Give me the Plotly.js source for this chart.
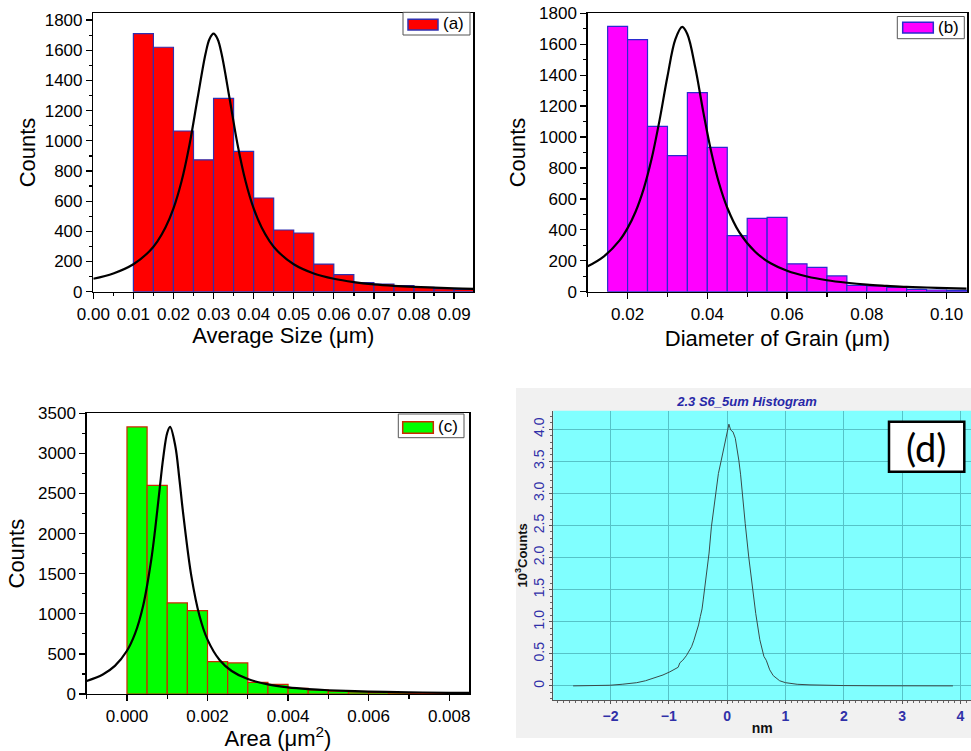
<!DOCTYPE html>
<html>
<head>
<meta charset="utf-8">
<script src="https://cdn.plot.ly/plotly-3.0.1.min.js"></script>
<style>
html,body{margin:0;padding:0;background:#fff;}
#chart{width:971px;height:751px;}
</style>
</head>
<body>
<div id="chart"></div>
<script>
// ---------- Panel (a): Average Size ----------
const binWidthA = 0.005;
const binStartA = [0.010,0.015,0.020,0.025,0.030,0.035,0.040,0.045,0.050,0.055,0.060,0.065,0.070,0.075,0.080,0.085,0.090];
const countsA   = [1710,1620,1065,874,1281,930,621,409,389,183,113,60,51,40,29,20,15];
const fitAx = [0,0.005,0.010,0.014,0.016,0.018,0.020,0.022,0.024,0.026,0.028,0.029,0.030,0.031,0.032,0.034,0.036,0.038,0.040,0.042,0.044,0.046,0.050,0.055,0.060,0.065,0.070,0.075,0.080,0.085,0.090,0.095];
const fitAy = [86,121,182,268,334,425,552,730,974,1280,1577,1675,1710,1675,1577,1280,974,730,552,425,334,268,182,121,86,64,49,39,32,27,22,19];

// ---------- Panel (b): Diameter of Grain ----------
const binWidthB = 0.005;
const binStartB = [0.015,0.020,0.025,0.030,0.035,0.040,0.045,0.050,0.055,0.060,0.065,0.070,0.075,0.080,0.085,0.090,0.095,0.100];
const countsB   = [1715,1630,1069,880,1287,933,362,474,481,180,157,102,41,37,28,15,11,9];
const fitBx = [0.010,0.014,0.018,0.020,0.022,0.024,0.026,0.028,0.030,0.032,0.0337,0.035,0.037,0.039,0.041,0.043,0.045,0.048,0.052,0.056,0.060,0.065,0.070,0.075,0.080,0.085,0.090,0.095,0.100,0.105];
const fitBy = [164,227,332,411,517,662,856,1106,1391,1633,1712,1665,1446,1161,902,696,543,385,258,182,135,98,74,58,46,38,31,27,23,20];

// ---------- Panel (c): Area ----------
const binWidthC = 0.0005;
const binStartC = [0,0.0005,0.0010,0.0015,0.0020,0.0025,0.0030,0.0035,0.0040,0.0045,0.0050,0.0055,0.0060,0.0065,0.0070,0.0075];
const countsC   = [3330,2602,1135,1039,403,387,145,121,71,50,37,25,21,16,12,8];
const fitCx = [-0.001,-0.0006,-0.0003,0,0.0002,0.0004,0.0006,0.0007,0.0008,0.0009,0.0010,0.00107,0.0012,0.0013,0.0014,0.0016,0.0018,0.0020,0.0023,0.0026,0.0030,0.0035,0.0040,0.0045,0.0050,0.0060,0.0070,0.0080,0.0085];
const fitCy = [163,244,351,539,752,1098,1665,2056,2504,2945,3258,3330,3093,2687,2230,1466,976,678,424,287,186,120,83,61,47,30,21,15,13];

// ---------- Panel (d): height histogram ----------
const profX = [-2.64,-2.3,-2.01,-1.8,-1.55,-1.4,-1.21,-1.1,-0.98,-0.9,-0.84,-0.81,-0.76,-0.70,-0.65,-0.61,-0.57,-0.53,-0.49,-0.46,-0.43,-0.41,-0.38,-0.35,-0.31,-0.27,-0.24,-0.21,-0.18,-0.15,-0.10,-0.07,-0.04,0.0,0.03,0.06,0.10,0.14,0.17,0.20,0.23,0.26,0.31,0.37,0.43,0.49,0.56,0.63,0.67,0.73,0.79,0.85,0.90,1.0,1.07,1.2,1.42,1.7,2.0,2.5,3.0,3.5,3.87];
const profY = [0,0.005,0.01,0.025,0.05,0.08,0.13,0.17,0.22,0.26,0.29,0.36,0.40,0.47,0.54,0.61,0.71,0.82,0.95,1.08,1.2,1.34,1.55,1.75,2.07,2.48,2.68,2.90,3.10,3.31,3.52,3.65,3.83,3.99,4.08,3.99,3.96,3.86,3.7,3.52,3.3,3.05,2.53,2.01,1.55,1.13,0.72,0.46,0.40,0.25,0.16,0.11,0.08,0.05,0.04,0.025,0.016,0.009,0.005,0.002,0.001,0,0];
const dTickVals = [0,0.5,1.0,1.5,2.0,2.5,3.0,3.5,4.0];
const dTickText = ['0','0.5','1.0','1.5','2.0','2.5','3.0','3.5','4.0'];

const W = 971, H = 751;
const px = v => v / W;
const py = v => 1 - v / H;
const FONT = 'Liberation Sans, Arial, sans-serif';

function bar(xs, ys, w, fill, edge, xa, ya, name) {
  return {type:'bar', x:xs, y:ys, width:w, offset:0, name:name,
    marker:{color:fill, line:{color:edge, width:1.2}},
    xaxis:xa, yaxis:ya, showlegend:false, hoverinfo:'skip'};
}
function fit(xs, ys, xa, ya) {
  return {type:'scatter', mode:'lines', x:xs, y:ys,
    line:{color:'#000', width:2.2, shape:'spline', smoothing:1},
    xaxis:xa, yaxis:ya, showlegend:false, hoverinfo:'skip', cliponaxis:true};
}

const traces = [
  bar(binStartA, countsA, binWidthA, '#ff0000', '#3030b0', 'x', 'y', '(a)'),
  fit(fitAx, fitAy, 'x', 'y'),
  bar(binStartB, countsB, binWidthB, '#ff00ff', '#2a2ad0', 'x2', 'y2', '(b)'),
  fit(fitBx, fitBy, 'x2', 'y2'),
  bar(binStartC, countsC, binWidthC, '#00ff00', '#cc2a00', 'x3', 'y3', '(c)'),
  fit(fitCx, fitCy, 'x3', 'y3'),
  {type:'scatter', mode:'lines', x:profX, y:profY, xaxis:'x4', yaxis:'y4',
   line:{color:'#3a4a4a', width:1}, showlegend:false, hoverinfo:'skip'}
];

function origAxis(extra) {
  return Object.assign({
    showline:true, linecolor:'#000', linewidth:1.4, mirror:true,
    ticks:'outside', ticklen:6, tickwidth:1.3, tickcolor:'#000',
    showgrid:false, zeroline:false,
    tickfont:{family:FONT, size:17, color:'#000'}
  }, extra);
}
function t(text, standoff) {
  return {text:text, standoff:standoff, font:{family:FONT, size:22, color:'#000'}};
}

const layout = {
  width:W, height:H,
  margin:{l:0, r:0, t:0, b:0},
  paper_bgcolor:'#ffffff',
  plot_bgcolor:'rgba(0,0,0,0)',
  bargap:0,
  showlegend:false,
  title:{text:'2.3 S6_5um Histogram', x:px(747), y:py(401), xref:'paper', yref:'paper',
         xanchor:'center', yanchor:'middle',
         font:{family:FONT, size:13, weight:'bold', style:'italic', color:'#2828a8'}},
  xaxis: origAxis({domain:[px(93.3), px(473.3)], range:[0, 0.0948], anchor:'y',
    tick0:0, dtick:0.01, tickformat:'.2f',
    minor:{dtick:0.005, ticklen:3, ticks:'outside', tickcolor:'#000'},
    title:t('Average Size (\u03bcm)', 3)}),
  yaxis: origAxis({domain:[py(291.7), py(13.3)], range:[0, 1845], anchor:'x',
    tick0:0, dtick:200, minor:{dtick:100, ticklen:3, ticks:'outside', tickcolor:'#000'},
    title:t('Counts', 3)}),
  xaxis2: origAxis({domain:[px(587.7), px(967.3)], range:[0.010, 0.1052], anchor:'y2',
    tick0:0, dtick:0.02, tickformat:'.2f',
    minor:{dtick:0.01, ticklen:4, ticks:'outside', tickcolor:'#000'},
    title:t('Diameter of Grain (\u03bcm)', 8)}),
  yaxis2: origAxis({domain:[py(291.7), py(13.3)], range:[0, 1800], anchor:'x2',
    tick0:0, dtick:200, minor:{dtick:100, ticklen:3, ticks:'outside', tickcolor:'#000'},
    title:t('Counts', 7)}),
  xaxis3: origAxis({domain:[px(86.7), px(469.3)], range:[-0.001, 0.0085], anchor:'y3',
    tick0:0, dtick:0.002, tickformat:'.3f',
    minor:{dtick:0.001, ticklen:4, ticks:'outside', tickcolor:'#000'},
    title:t('Area (\u03bcm<sup>2</sup>)', 5)}),
  yaxis3: origAxis({domain:[py(694), py(413.3)], range:[0, 3500], anchor:'x3',
    tick0:0, dtick:500, minor:{dtick:250, ticklen:3, ticks:'outside', tickcolor:'#000'},
    title:t('Counts', 7)}),
  xaxis4: {domain:[px(553.3), 1], range:[-2.98, 4.18], anchor:'y4',
    showline:true, linecolor:'#555', linewidth:1, mirror:false,
    ticks:'outside', ticklen:3, tickcolor:'#555', tick0:0, dtick:1,
    minor:{dtick:0.1, ticklen:2, ticks:'outside', tickcolor:'#666', showgrid:false},
    showgrid:true, gridcolor:'#56c3c8', gridwidth:1, zeroline:false,
    tickfont:{family:FONT, size:14, color:'#3030a8', weight:'bold'},
    title:{text:'nm', standoff:0, font:{family:FONT, size:14, color:'#111', weight:'bold'}}},
  yaxis4: {domain:[py(700), py(410.7)], range:[-0.22, 4.29], anchor:'x4',
    showline:true, linecolor:'#555', linewidth:1,
    ticks:'outside', ticklen:3, tickcolor:'#555',
    tickmode:'array', tickvals:dTickVals, ticktext:dTickText, tickangle:-90,
    minor:{tickmode:'linear', tick0:0, dtick:0.1, ticklen:2, ticks:'outside', tickcolor:'#666', showgrid:false},
    showgrid:true, gridcolor:'#56c3c8', gridwidth:1, zeroline:false,
    tickfont:{family:FONT, size:14, color:'#3030a8'},
    title:{text:'10<sup>3</sup>Counts', standoff:0, font:{family:FONT, size:13, color:'#111', weight:'bold'}}},
  shapes:[
    // panel (d) background
    {type:'rect', xref:'paper', yref:'paper', x0:px(516), x1:1, y0:py(738), y1:py(388),
     fillcolor:'#f1f1f1', line:{width:0}, layer:'below'},
    {type:'rect', xref:'x4 domain', yref:'y4 domain', x0:0, x1:1, y0:0, y1:1,
     fillcolor:'#80ffff', line:{width:0}, layer:'below'},
    // legend (a)
    {type:'rect', xref:'paper', yref:'paper', x0:px(403), x1:px(470), y0:py(35), y1:py(12.3),
     fillcolor:'#fff', line:{color:'#555', width:1}},
    {type:'rect', xref:'paper', yref:'paper', x0:px(408), x1:px(438), y0:py(30), y1:py(19.3),
     fillcolor:'#ff0000', line:{color:'#3030b0', width:1.5}},
    // legend (b)
    {type:'rect', xref:'paper', yref:'paper', x0:px(897.3), x1:px(964.3), y0:py(38.7), y1:py(16.5),
     fillcolor:'#fff', line:{color:'#555', width:1}},
    {type:'rect', xref:'paper', yref:'paper', x0:px(902.7), x1:px(933.3), y0:py(33), y1:py(22.3),
     fillcolor:'#ff00ff', line:{color:'#2a2ad0', width:1.5}},
    // legend (c)
    {type:'rect', xref:'paper', yref:'paper', x0:px(398.3), x1:px(464), y0:py(437.7), y1:py(414),
     fillcolor:'#fff', line:{color:'#555', width:1}},
    {type:'rect', xref:'paper', yref:'paper', x0:px(402.7), x1:px(433.3), y0:py(433.3), y1:py(421.7),
     fillcolor:'#00ff00', line:{color:'#cc2a00', width:1.5}},
    // (d) label box
    {type:'rect', xref:'paper', yref:'paper', x0:px(889), x1:px(964.3), y0:py(471.7), y1:py(421.7),
     fillcolor:'#fff', line:{color:'#000', width:2.5}}
  ],
  annotations:[
    {text:'(a)', xref:'paper', yref:'paper', x:px(441), y:py(24), xanchor:'left', yanchor:'middle',
     showarrow:false, font:{family:FONT, size:17, color:'#000'}},
    {text:'(b)', xref:'paper', yref:'paper', x:px(935.5), y:py(27.5), xanchor:'left', yanchor:'middle',
     showarrow:false, font:{family:FONT, size:17, color:'#000'}},
    {text:'(c)', xref:'paper', yref:'paper', x:px(436), y:py(426), xanchor:'left', yanchor:'middle',
     showarrow:false, font:{family:FONT, size:17, color:'#000'}},
    {text:'(d)', xref:'paper', yref:'paper', x:px(926.7), y:py(446.7), xanchor:'center', yanchor:'middle',
     showarrow:false, font:{family:'Lato, Open Sans, sans-serif', size:38, color:'#000'}}
  ]
};

Plotly.newPlot('chart', traces, layout, {staticPlot:true, displayModeBar:false});
</script>
</body>
</html>
